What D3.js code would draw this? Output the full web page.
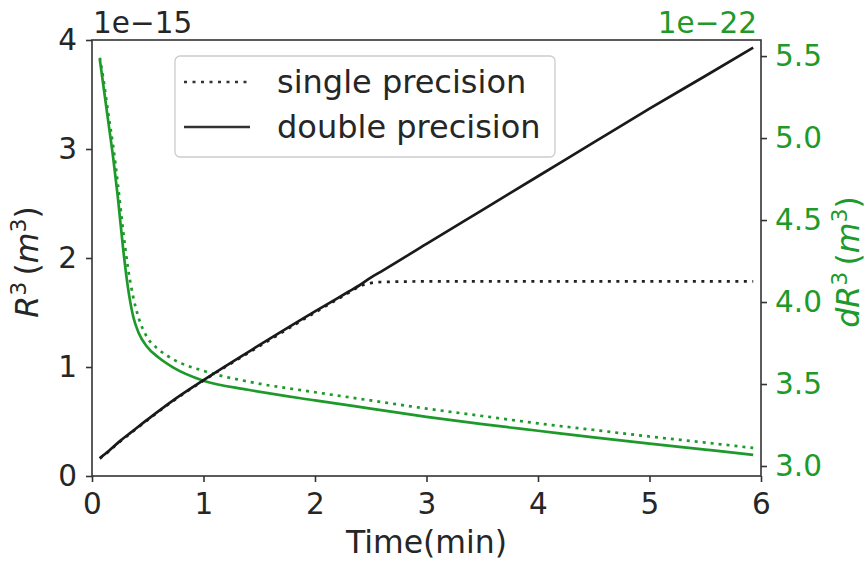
<!DOCTYPE html>
<html>
<head>
<meta charset="utf-8">
<script src="https://cdn.jsdelivr.net/npm/d3@7"></script>
<style>
  body { margin: 0; background: #fff; }
  text { font-family: "DejaVu Sans", sans-serif; }
</style>
</head>
<body>
<script>
// time (min) for the R^3 curves
const timeR = [0.07, 0.15, 0.25, 0.35, 0.5, 0.75, 1, 1.5, 2, 2.3, 2.4, 2.5, 2.6, 3, 3.5, 4, 4.5, 5, 5.5, 5.93];
// R^3 (x 1e-15 m^3)
const doubleR3 = [0.165, 0.23, 0.32, 0.40, 0.52, 0.71, 0.88, 1.20, 1.51, 1.69, 1.75, 1.82, 1.88, 2.13, 2.44, 2.75, 3.06, 3.37, 3.67, 3.93];
const singleR3 = [0.16, 0.225, 0.315, 0.395, 0.515, 0.705, 0.875, 1.19, 1.50, 1.68, 1.74, 1.77, 1.78, 1.785, 1.785, 1.785, 1.785, 1.785, 1.785, 1.785];

// time (min) for the dR^3 curves
const timeD = [0.07, 0.1, 0.15, 0.19, 0.23, 0.28, 0.32, 0.37, 0.42, 0.49, 0.6, 0.73, 1, 1.4, 2, 2.5, 3, 3.5, 4, 4.5, 5, 5.5, 5.93];
// dR^3 (x 1e-22 m^3)
const doubleD = [5.48, 5.33, 5.08, 4.88, 4.65, 4.32, 4.10, 3.91, 3.81, 3.73, 3.66, 3.60, 3.52, 3.465, 3.40, 3.35, 3.30, 3.255, 3.215, 3.175, 3.137, 3.10, 3.068];
const singleD = [5.49, 5.37, 5.13, 4.95, 4.73, 4.43, 4.22, 4.03, 3.90, 3.79, 3.71, 3.65, 3.58, 3.515, 3.45, 3.40, 3.35, 3.305, 3.26, 3.22, 3.18, 3.143, 3.11];

const xTicks = [0, 1, 2, 3, 4, 5, 6];
const leftTicks = [0, 1, 2, 3, 4];
const rightTicks = [3.0, 3.5, 4.0, 4.5, 5.0, 5.5];
const legendLabels = ['single precision', 'double precision'];

const width = 868, height = 561;
const margin = {top: 40, right: 107, bottom: 85, left: 92};
const green = '#1d9a2a';
const ink = '#262626';

const svg = d3.select('body').append('svg')
  .attr('width', width)
  .attr('height', height);

const x = d3.scaleLinear().domain([0, 6]).range([margin.left, width - margin.right]);
const yL = d3.scaleLinear().domain([0, 4]).range([height - margin.bottom, margin.top]);
const yR = d3.scaleLinear().domain([2.939, 5.598]).range([height - margin.bottom, margin.top]);

// lines
const lineL = d3.line().x(d => x(d[0])).y(d => yL(d[1])).curve(d3.curveMonotoneX);
const lineR = d3.line().x(d => x(d[0])).y(d => yR(d[1])).curve(d3.curveMonotoneX);

const plot = svg.append('g');

plot.append('path')
  .datum(timeD.map((t, i) => [t, singleD[i]]))
  .attr('d', lineR).attr('fill', 'none')
  .attr('stroke', green).attr('stroke-width', 2.7)
  .attr('stroke-dasharray', '3,5');

plot.append('path')
  .datum(timeD.map((t, i) => [t, doubleD[i]]))
  .attr('d', lineR).attr('fill', 'none')
  .attr('stroke', green).attr('stroke-width', 2.7);

plot.append('path')
  .datum(timeR.map((t, i) => [t, singleR3[i]]))
  .attr('d', lineL).attr('fill', 'none')
  .attr('stroke', '#222').attr('stroke-width', 2.7)
  .attr('stroke-dasharray', '3,5.5');

plot.append('path')
  .datum(timeR.map((t, i) => [t, doubleR3[i]]))
  .attr('d', lineL).attr('fill', 'none')
  .attr('stroke', '#1a1a1a').attr('stroke-width', 2.7);

// frame
svg.append('rect')
  .attr('x', margin.left).attr('y', margin.top)
  .attr('width', width - margin.right - margin.left)
  .attr('height', height - margin.bottom - margin.top)
  .attr('fill', 'none').attr('stroke', '#333').attr('stroke-width', 1.6);

// axes
function styleAxis(g, color) {
  g.select('.domain').remove();
  g.selectAll('.tick line').attr('stroke', '#333').attr('stroke-width', 1.6);
  g.selectAll('.tick text').attr('fill', color)
    .attr('font-size', 29.5).attr('font-family', 'DejaVu Sans');
}

svg.append('g')
  .attr('transform', `translate(0,${height - margin.bottom})`)
  .call(d3.axisBottom(x).tickValues(xTicks).tickFormat(d3.format('d')).tickSize(6).tickPadding(11))
  .call(g => styleAxis(g, ink));

svg.append('g')
  .attr('transform', `translate(${margin.left},0)`)
  .call(d3.axisLeft(yL).tickValues(leftTicks).tickFormat(d3.format('d')).tickSize(6).tickPadding(9))
  .call(g => styleAxis(g, ink));

svg.append('g')
  .attr('transform', `translate(${width - margin.right},0)`)
  .call(d3.axisRight(yR).tickValues(rightTicks).tickFormat(d3.format('.1f')).tickSize(6).tickPadding(8))
  .call(g => styleAxis(g, green));

// offset texts
svg.append('text')
  .attr('x', margin.left + 1).attr('y', 33)
  .attr('font-size', 29.5).attr('fill', ink)
  .text('1e\u221215');

svg.append('text')
  .attr('x', width - margin.right - 4).attr('y', 33)
  .attr('text-anchor', 'end')
  .attr('font-size', 29.5).attr('fill', green)
  .text('1e\u221222');

// x label
svg.append('text')
  .attr('x', (margin.left + width - margin.right) / 2).attr('y', 553)
  .attr('text-anchor', 'middle')
  .attr('font-size', 31.5).attr('fill', ink)
  .text('Time(min)');

// y labels with mathtext-like styling
function mathLabel(xPos, color, prefix) {
  const t = svg.append('text')
    .attr('transform', `translate(${xPos},262) rotate(-90)`)
    .attr('text-anchor', 'middle')
    .attr('font-size', 31.5).attr('fill', color);
  t.append('tspan').attr('font-style', 'italic').text(prefix);
  t.append('tspan').attr('font-size', 22).attr('dy', -12).text('3');
  t.append('tspan').attr('dy', 12).text('\u2009(');
  t.append('tspan').attr('font-style', 'italic').text('m');
  t.append('tspan').attr('font-size', 22).attr('dy', -12).text('3');
  t.append('tspan').attr('dy', 12).text(')');
}
mathLabel(38, ink, 'R');
mathLabel(859, green, 'dR');

// legend
const leg = svg.append('g');
leg.append('rect')
  .attr('x', 175).attr('y', 56).attr('width', 380).attr('height', 101)
  .attr('rx', 5).attr('fill', 'white').attr('fill-opacity', 0.8)
  .attr('stroke', '#cccccc').attr('stroke-width', 1.3);

legendLabels.forEach((lab, i) => {
  const yy = 82 + i * 45;
  leg.append('line')
    .attr('x1', 184).attr('x2', 250).attr('y1', yy).attr('y2', yy)
    .attr('stroke', '#333').attr('stroke-width', 2.7)
    .attr('stroke-dasharray', i === 0 ? '3,5.5' : null);
  leg.append('text')
    .attr('x', 277).attr('y', yy).attr('dy', '0.35em')
    .attr('font-size', 32).attr('fill', ink)
    .text(lab);
});
</script>
</body>
</html>
